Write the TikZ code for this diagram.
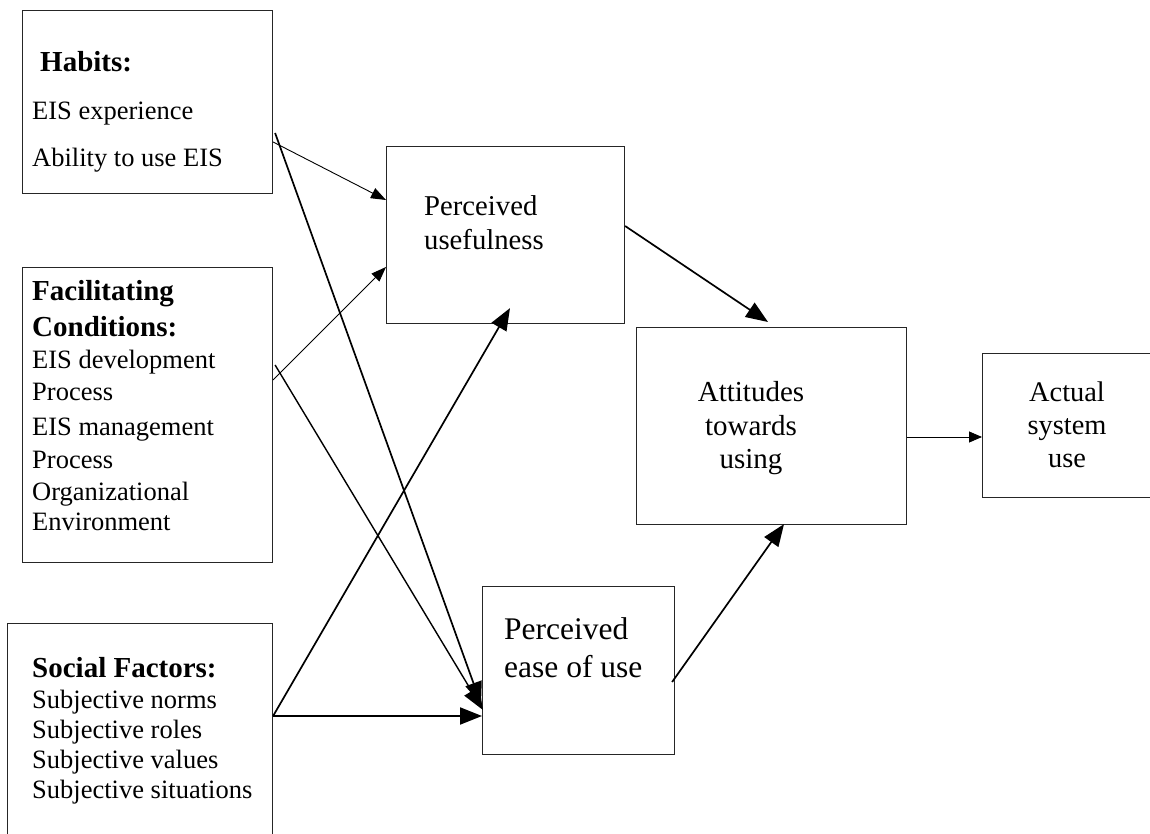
\documentclass[tikz,border=0pt]{standalone}
\usepackage{fontspec}
\setmainfont{Liberation Serif}
\usetikzlibrary{arrows.meta,calc}
\begin{document}
\begin{tikzpicture}[x=1pt,y=-1pt,
  box/.style={draw=black!85, line width=1.1pt, inner sep=0pt, anchor=north west},
  txt/.style={anchor=base west, inner sep=0pt, font=\fontsize{26.5}{30}\selectfont},
  head/.style={anchor=base west, inner sep=0pt, font=\fontsize{29}{32}\selectfont\bfseries},
  ctr/.style={anchor=base, inner sep=0pt, font=\fontsize{29}{32}\selectfont},
  thinarrow/.style={line width=0.9pt, -{Triangle[length=15pt,width=11pt]}},
  thickarrow/.style={line width=1.7pt, -{Triangle[length=22pt,width=17pt]}}]
\useasboundingbox (0,0) rectangle (1150,834);
\fill[white] (0,0) rectangle (1150,834);

% boxes
\node[box, minimum width=250pt, minimum height=183pt] (hab) at (22,10) {};
\node[box, minimum width=250pt, minimum height=295pt] (fac) at (22,267) {};
\node[box, minimum width=265pt, minimum height=225pt] (soc) at (7,623) {};
\node[box, minimum width=238pt, minimum height=177pt] (pu) at (386,146) {};
\node[box, minimum width=270pt, minimum height=197pt] (att) at (636,327) {};
\node[box, minimum width=185pt, minimum height=144pt] (act) at (982,353) {};
\node[box, minimum width=192pt, minimum height=168pt] (peou) at (482,586) {};

% Habits text
\node[head] (h0) at (40,72) {Habits:};
\node[txt] (h1) at (32,120) {EIS experience};
\node[txt] (h2) at (32,167) {Ability to use EIS};

% Facilitating text
\node[head] (f0) at (32,300) {Facilitating};
\node[head] (f1) at (32,336) {Conditions:};
\node[txt] (f2) at (32,368) {EIS development};
\node[txt] (f3) at (32,400) {Process};
\node[txt] (f4) at (32,435) {EIS management};
\node[txt] (f5) at (32,468) {Process};
\node[txt] (f6) at (32,500) {Organizational};
\node[txt] (f7) at (32,530) {Environment};

% Social text
\node[head] (s0) at (32,677) {Social Factors:};
\node[txt] (s1) at (32,708) {Subjective norms};
\node[txt] (s2) at (32,738) {Subjective roles};
\node[txt] (s3) at (32,768) {Subjective values};
\node[txt] (s4) at (32,798) {Subjective situations};

% Perceived usefulness
\node[txt, font=\fontsize{28.7}{32}\selectfont] (p1) at (424,216) {Perceived};
\node[txt, font=\fontsize{28.7}{32}\selectfont] (p2) at (424,250) {usefulness};

% Attitudes
\node[ctr] (a1) at (751,401) {Attitudes};
\node[ctr] (a2) at (751,435) {towards};
\node[ctr] (a3) at (751,468) {using};

% Actual system use
\node[ctr, font=\fontsize{28.4}{32}\selectfont] (u1) at (1067,401) {Actual};
\node[ctr, font=\fontsize{28.4}{32}\selectfont] (u2) at (1067,434) {system};
\node[ctr, font=\fontsize{28.4}{32}\selectfont] (u3) at (1067,467) {use};

% Perceived ease of use
\node[txt, font=\fontsize{31.5}{36}\selectfont] (e1) at (504,639) {Perceived};
\node[txt, font=\fontsize{31.5}{36}\selectfont] (e2) at (504,677) {ease of use};

% connectors
\draw[thinarrow] ($(hab.north east)+(0,132)$) -- ($(pu.north west)+(0,54)$);
\draw[thickarrow] ($(hab.north east)+(2,123)$) -- ($(peou.north west)+(-1,118)$);
\draw[thinarrow] ($(fac.north east)+(0,113)$) -- ($(pu.north west)+(0,121)$);
\draw[thickarrow, line width=1.4pt] ($(fac.north east)+(2,98)$) -- ($(peou.north west)+(1,124)$);
\draw[thickarrow] ($(soc.north east)+(0,93)$) -- ($(pu.south west)+(124,-16)$);
\draw[thickarrow, line width=1.9pt] ($(soc.north east)+(0,93)$) -- ($(peou.north west)+(0,130)$);
\draw[thickarrow] ($(pu.north east)+(0,80)$) -- ($(att.north west)+(132,-5)$);
\draw[thickarrow] ($(peou.north east)+(-3,96)$) -- ($(att.south west)+(148,-1)$);
\draw[thinarrow, -{Triangle[length=13pt,width=11pt]}] ($(att.north east)+(0,110)$) -- ($(act.north west)+(0,84)$);
\end{tikzpicture}
\end{document}
